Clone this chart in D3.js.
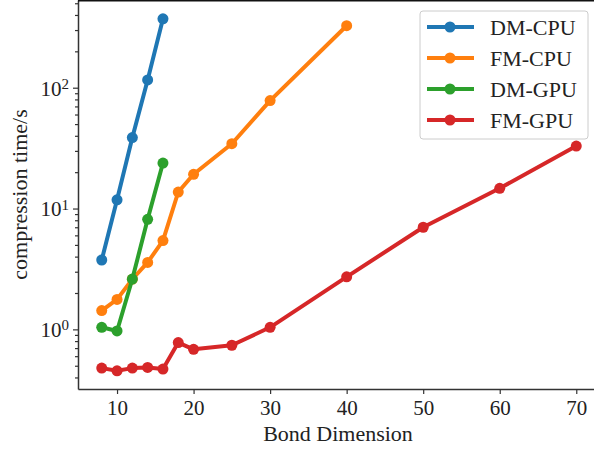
<!DOCTYPE html>
<html>
<head>
<meta charset="utf-8">
<script src="https://cdn.jsdelivr.net/npm/d3@7"></script>
<style>
  body { margin: 0; background: #fff; }
  text { font-family: "Liberation Serif", "DejaVu Serif", serif; fill: #222; }
</style>
</head>
<body>
<svg id="chart" width="594" height="451"></svg>
<script>
// series data
const dmCpuX = [8, 10, 12, 14, 16];
const dmCpuY = [3.75, 11.8, 38.7, 116, 372];
const fmCpuX = [8, 10, 12, 14, 16, 18, 20, 25, 30, 40];
const fmCpuY = [1.43, 1.77, 2.6, 3.58, 5.43, 13.7, 19.2, 34.4, 78.2, 326];
const dmGpuX = [8, 10, 12, 14, 16];
const dmGpuY = [1.04, 0.97, 2.61, 8.15, 23.8];
const fmGpuX = [8, 10, 12, 14, 16, 18, 20, 25, 30, 40, 50, 60, 70];
const fmGpuY = [0.478, 0.454, 0.478, 0.484, 0.469, 0.777, 0.684, 0.739, 1.04, 2.72, 7.0, 14.7, 32.9];

const seriesNames = ["DM-CPU", "FM-CPU", "DM-GPU", "FM-GPU"];
const colors = ["#1f77b4", "#ff7f0e", "#2ca02c", "#d62728"];
const xTicks = [10, 20, 30, 40, 50, 60, 70];
const yTicks = [1, 10, 100];

const series = [
  {name: seriesNames[0], x: dmCpuX, y: dmCpuY},
  {name: seriesNames[1], x: fmCpuX, y: fmCpuY},
  {name: seriesNames[2], x: dmGpuX, y: dmGpuY},
  {name: seriesNames[3], x: fmGpuX, y: fmGpuY}
];

const margin = {left: 78, top: 0, bottom: 62};
const width = 594, height = 451;
const plotBottom = height - margin.bottom;

const x = d3.scaleLinear().domain([4.9, 73.1]).range([margin.left, 600]);
const y = d3.scaleLog().domain([0.321, 532]).range([plotBottom, margin.top]);

const svg = d3.select("#chart");

// lines and markers
series.forEach(function(s, i) {
  const pts = s.x.map((v, j) => [v, s.y[j]]);
  svg.append("path")
    .datum(pts)
    .attr("fill", "none")
    .attr("stroke", colors[i])
    .attr("stroke-width", 4)
    .attr("stroke-linejoin", "round")
    .attr("d", d3.line().x(d => x(d[0])).y(d => y(d[1])));
  svg.append("g").selectAll("circle")
    .data(pts)
    .join("circle")
    .attr("cx", d => x(d[0]))
    .attr("cy", d => y(d[1]))
    .attr("r", 5.5)
    .attr("fill", colors[i]);
});

// axes
const xAxis = svg.append("g")
  .attr("transform", "translate(0," + plotBottom + ")")
  .call(d3.axisBottom(x).tickValues(xTicks).tickSize(5).tickSizeOuter(0).tickPadding(6).tickFormat(d3.format("d")));
xAxis.selectAll("text").style("font-size", "21px").attr("fill", "#222");

const minor = [];
[0.1, 1, 10, 100].forEach(function(dec) {
  for (let k = 2; k <= 9; k++) {
    const v = dec * k;
    if (v >= y.domain()[0] && v <= y.domain()[1]) minor.push(v);
  }
});
const yMinor = svg.append("g")
  .attr("transform", "translate(" + margin.left + ",0)")
  .call(d3.axisLeft(y).tickValues(minor).tickSize(3).tickSizeOuter(0).tickFormat(""));
yMinor.select(".domain").remove();

const yAxis = svg.append("g")
  .attr("transform", "translate(" + margin.left + ",0)")
  .call(d3.axisLeft(y).tickValues(yTicks).tickSize(5).tickSizeOuter(0).tickPadding(6).tickFormat(""));

yAxis.selectAll(".tick").append("text")
  .attr("x", -9)
  .attr("dy", "0.35em")
  .attr("text-anchor", "end")
  .style("font-size", "21px")
  .each(function(d) {
    const t = d3.select(this);
    t.append("tspan").text("10");
    t.append("tspan").attr("dy", "-0.45em").style("font-size", "15px")
      .text(String(Math.round(Math.log10(d))));
  });

[xAxis, yAxis, yMinor].forEach(function(g) {
  g.selectAll("line").attr("stroke", "#333").attr("stroke-width", 1.2);
  g.select(".domain").attr("stroke", "#333").attr("stroke-width", 1.5);
});

// top spine
svg.append("line")
  .attr("x1", margin.left).attr("x2", width)
  .attr("y1", 0.75).attr("y2", 0.75)
  .attr("stroke", "#111").attr("stroke-width", 1.5);

// axis titles
svg.append("text")
  .attr("x", 338)
  .attr("y", 441)
  .attr("text-anchor", "middle")
  .style("font-size", "22px")
  .text("Bond Dimension");

svg.append("text")
  .attr("transform", "translate(27," + (plotBottom / 2) + ") rotate(-90)")
  .attr("text-anchor", "middle")
  .style("font-size", "22px")
  .text("compression time/s");

// legend
const legend = svg.append("g");
legend.append("rect")
  .attr("x", 420).attr("y", 11)
  .attr("width", 168).attr("height", 128)
  .attr("rx", 3)
  .attr("fill", "#fff").attr("fill-opacity", 0.8)
  .attr("stroke", "#ccc").attr("stroke-width", 1);

seriesNames.forEach(function(name, i) {
  const ly = 27 + i * 31;
  legend.append("line")
    .attr("x1", 427).attr("x2", 474)
    .attr("y1", ly).attr("y2", ly)
    .attr("stroke", colors[i]).attr("stroke-width", 4);
  legend.append("circle")
    .attr("cx", 450).attr("cy", ly).attr("r", 5.5)
    .attr("fill", colors[i]);
  legend.append("text")
    .attr("x", 490).attr("y", ly)
    .attr("dy", "0.35em")
    .style("font-size", "22px")
    .text(name);
});
</script>
</body>
</html>
